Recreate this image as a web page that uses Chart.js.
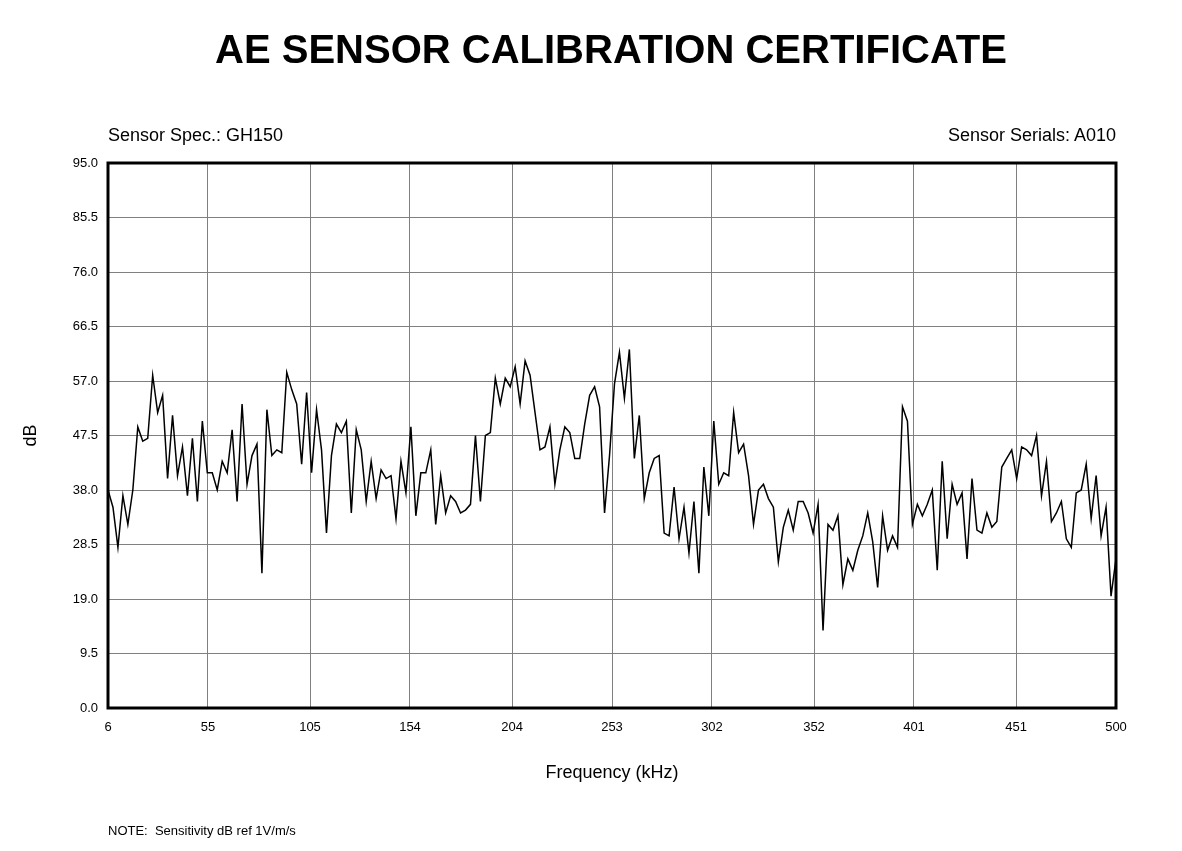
<!DOCTYPE html>
<html>
<head>
<meta charset="utf-8">
<script src="https://cdn.jsdelivr.net/npm/chart.js@4"></script>
<style>
  body { margin: 0; background: #fff; font-family: "Liberation Sans", Arial, sans-serif; }
  #wrap { position: relative; width: 1182px; height: 851px; }
  canvas { position: absolute; left: 0; top: 0; }
  .txt { position: absolute; color: #000; white-space: nowrap; }
</style>
</head>
<body>
<div id="wrap">
  <canvas id="calcanvas" width="1182" height="851"></canvas>
  <div class="txt" style="left:0;width:1222px;text-align:center;top:27px;font-size:40px;font-weight:bold;">AE SENSOR CALIBRATION CERTIFICATE</div>
  <div class="txt" style="left:108px;top:125px;font-size:18px;">Sensor Spec.: GH150</div>
  <div class="txt" style="right:66px;top:125px;font-size:18px;">Sensor Serials: A010</div>
  <div class="txt" style="left:108px;top:823px;font-size:13px;">NOTE:&nbsp; Sensitivity dB ref 1V/m/s</div>
</div>
<script>
var xTicks = [6, 55, 105, 154, 204, 253, 302, 352, 401, 451, 500];
var yTicks = [0, 9.5, 19, 28.5, 38, 47.5, 57, 66.5, 76, 85.5, 95];

// dB readings, evenly sampled from 6 to 500 kHz
var dbValues = [
	38, 35, 28, 37, 32, 38, 49, 46.5, 47, 58, 51.5, 54.5, 40, 51, 40.5, 45.5, 37, 47, 36, 50,
	41, 41, 38, 43, 41, 48.5, 36, 53, 39, 44, 46, 23.5, 52, 44, 45, 44.5, 58.5, 55.5, 53, 42.5,
	55, 41, 52, 45, 30.5, 44, 49.5, 48, 50, 34, 48.5, 45, 36, 43, 36.5, 41.5, 40, 40.5, 33, 43,
	37.5, 49, 33.5, 41, 41, 45, 32, 40.5, 34, 37, 36, 34, 34.5, 35.5, 47.5, 36, 47.5, 48, 57.5, 53,
	57.5, 56, 59.5, 53, 60.5, 58, 51.5, 45, 45.5, 49, 39, 45, 49, 48, 43.5, 43.5, 49.5, 54.5, 56, 52.5,
	34, 44, 56.5, 62, 54, 62.5, 43.5, 51, 36.5, 41, 43.5, 44, 30.5, 30, 38.5, 29.5, 35, 27, 36, 23.5,
	42, 33.5, 50, 39, 41, 40.5, 51.5, 44.5, 46, 40.5, 32, 38, 39, 36.5, 35, 25.5, 31.5, 34.5, 31, 36,
	36, 34, 30.5, 35.5, 13.5, 32, 31, 33.5, 21.5, 26, 24, 27.5, 30, 34, 29, 21, 33.5, 27.5, 30, 28,
	52.5, 50, 32, 35.5, 33.5, 35.5, 38, 24, 43, 29.5, 39, 35.5, 37.5, 26, 40, 31, 30.5, 34, 31.5, 32.5,
	42, 43.5, 45, 40, 45.5, 45, 44, 47.5, 37, 43, 32.5, 34, 36, 29.5, 28, 37.5, 38, 42.5, 33, 40.5,
	30, 35, 19.5, 26
];

var fStep = (500 - 6) / (dbValues.length - 1);
var points = dbValues.map(function(v, i) { return { x: 6 + i * fStep, y: v }; });

var frame = {
	id: 'frame',
	afterDraw: function(chart) {
		var a = chart.chartArea, c = chart.ctx;
		c.save();
		c.strokeStyle = '#000';
		c.lineWidth = 3;
		c.strokeRect(a.left, a.top, a.right - a.left, a.bottom - a.top);
		c.restore();
	}
};

var ctx = document.getElementById("calcanvas").getContext("2d");
new Chart(ctx, {
	type: 'line',
	data: {
		datasets: [{
			data: points,
			borderColor: '#000',
			borderWidth: 1.5,
			pointRadius: 0,
			tension: 0,
			fill: false
		}]
	},
	options: {
		responsive: false,
		animation: false,
		layout: { padding: { left: 0, top: 163, right: 66, bottom: 63 } },
		plugins: { legend: { display: false }, tooltip: { enabled: false } },
		scales: {
			x: {
				type: 'linear', min: 6, max: 500,
				afterBuildTicks: function(s) { s.ticks = xTicks.map(function(v) { return { value: v }; }); },
				afterFit: function(s) { s.height = 80; },
				grid: { color: '#808080', lineWidth: 1, drawTicks: false },
				border: { display: false },
				ticks: { color: '#000', font: { family: 'Liberation Sans', size: 13 }, padding: 12, maxRotation: 0,
					callback: function(v) { return v; } },
				title: { display: true, text: 'Frequency (kHz)', color: '#000', font: { family: 'Liberation Sans', size: 18 }, padding: { top: 14 } }
			},
			y: {
				min: 0, max: 95,
				afterBuildTicks: function(s) { s.ticks = yTicks.map(function(v) { return { value: v }; }); },
				afterFit: function(s) { s.width = 108; },
				grid: { color: '#808080', lineWidth: 1, drawTicks: false },
				border: { display: false },
				ticks: { color: '#000', font: { family: 'Liberation Sans', size: 13 }, padding: 10,
					callback: function(v) { return v.toFixed(1); } },
				title: { display: true, text: 'dB', color: '#000', font: { family: 'Liberation Sans', size: 18 }, padding: { top: 20, bottom: 34 } }
			}
		}
	},
	plugins: [frame]
});
</script>
</body>
</html>
